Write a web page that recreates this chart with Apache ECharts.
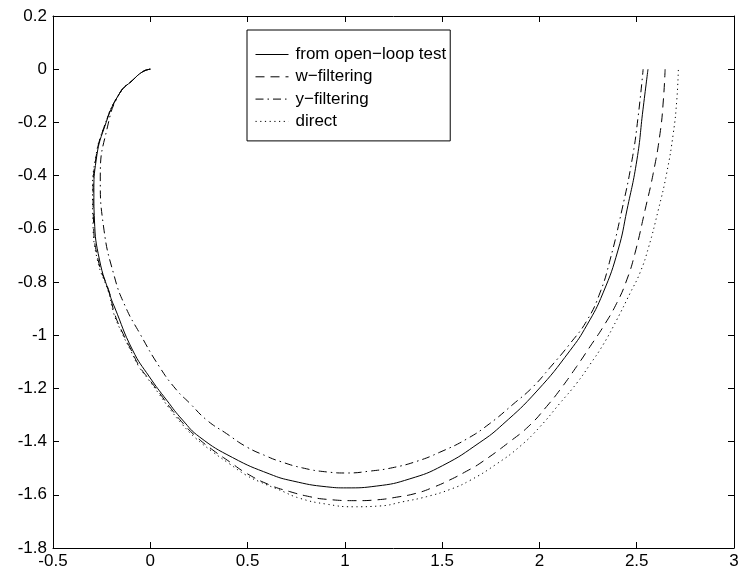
<!DOCTYPE html>
<html>
<head>
<meta charset="utf-8">
<script src="https://cdn.jsdelivr.net/npm/echarts@6/dist/echarts.min.js"></script>
<style>html,body{margin:0;padding:0;background:#fff;}#chart{width:742px;height:573px;}</style>
</head>
<body>
<div id="chart"></div>
<script>
// Series data, [x, y] pairs
var openLoop = [
  [0,0],[-0.038,-0.009],[-0.090,-0.041],[-0.158,-0.091],[-0.235,-0.217],[-0.278,-0.341],
  [-0.290,-0.465],[-0.287,-0.567],[-0.261,-0.717],[-0.207,-0.850],[-0.184,-0.894],
  [-0.091,-1.056],[-0.004,-1.157],[0.084,-1.244],[0.166,-1.319],[0.254,-1.383],
  [0.423,-1.460],[0.614,-1.522],[0.732,-1.548],[0.907,-1.570],[1.010,-1.574],
  [1.164,-1.567],[1.334,-1.540],[1.503,-1.490],[1.694,-1.403],[1.812,-1.335],
  [1.987,-1.210],[2.157,-1.058],[2.244,-0.962],[2.327,-0.841],[2.404,-0.680],
  [2.450,-0.529],[2.501,-0.341],[2.532,-0.153],[2.558,0]
];
var wFiltering = [
  [0,0],[-0.038,-0.009],[-0.090,-0.041],[-0.158,-0.091],[-0.237,-0.217],[-0.281,-0.341],
  [-0.294,-0.465],[-0.292,-0.567],[-0.268,-0.717],[-0.209,-0.842],[-0.184,-0.918],
  [-0.141,-0.993],[-0.098,-1.056],[-0.055,-1.118],[-0.004,-1.168],[0.048,-1.218],
  [0.099,-1.269],[0.168,-1.331],[0.237,-1.382],[0.322,-1.432],[0.408,-1.476],
  [0.494,-1.519],[0.614,-1.563],[0.717,-1.588],[0.819,-1.607],[0.905,-1.617],
  [1.060,-1.622],[1.163,-1.619],[1.265,-1.609],[1.368,-1.594],[1.454,-1.572],
  [1.540,-1.544],[1.626,-1.511],[1.694,-1.482],[1.848,-1.400],[1.951,-1.338],
  [2.037,-1.268],[2.105,-1.206],[2.191,-1.118],[2.260,-1.043],[2.328,-0.968],
  [2.397,-0.880],[2.449,-0.792],[2.491,-0.692],[2.543,-0.529],[2.585,-0.391],
  [2.620,-0.241],[2.637,-0.116],[2.646,0]
];
var yFiltering = [
  [0,0],[-0.038,-0.009],[-0.090,-0.041],[-0.158,-0.091],[-0.220,-0.217],[-0.257,-0.405],
  [-0.240,-0.593],[-0.184,-0.781],[-0.127,-0.894],[-0.055,-0.992],[0.048,-1.120],
  [0.135,-1.206],[0.202,-1.255],[0.290,-1.319],[0.392,-1.370],[0.495,-1.420],
  [0.598,-1.455],[0.665,-1.474],[0.783,-1.499],[0.907,-1.514],[1.010,-1.518],
  [1.128,-1.511],[1.246,-1.498],[1.370,-1.474],[1.488,-1.440],[1.627,-1.390],
  [1.745,-1.332],[1.864,-1.260],[1.967,-1.194],[2.054,-1.122],
  [2.157,-1.032],[2.244,-0.945],[2.311,-0.841],[2.363,-0.717],[2.424,-0.529],
  [2.476,-0.341],[2.507,-0.180],[2.533,0]
];
var direct = [
  [0,0],[-0.038,-0.009],[-0.090,-0.041],[-0.158,-0.091],[-0.238,-0.217],[-0.283,-0.341],
  [-0.297,-0.465],[-0.295,-0.567],[-0.272,-0.717],[-0.213,-0.842],[-0.188,-0.918],
  [-0.145,-0.993],[-0.102,-1.056],[-0.059,-1.118],[-0.008,-1.168],[0.044,-1.220],
  [0.095,-1.272],[0.164,-1.335],[0.233,-1.387],[0.318,-1.437],[0.404,-1.482],
  [0.490,-1.525],[0.562,-1.551],[0.665,-1.582],[0.768,-1.613],[0.905,-1.635],
  [1.042,-1.645],[1.180,-1.642],[1.299,-1.626],[1.420,-1.607],[1.540,-1.580],
  [1.643,-1.546],[1.780,-1.484],[1.900,-1.418],[2.003,-1.344],[2.105,-1.256],
  [2.191,-1.181],[2.260,-1.110],[2.328,-1.035],[2.397,-0.943],[2.466,-0.842],
  [2.517,-0.765],[2.560,-0.672],[2.611,-0.529],[2.654,-0.391],[2.688,-0.241],
  [2.706,-0.116],[2.714,0]
];
var seriesNames = ['from open\u2212loop test', 'w\u2212filtering', 'y\u2212filtering', 'direct'];
var xTicks = {min: -0.5, max: 3, interval: 0.5};
var yTicks = {min: -1.8, max: 0.2, interval: 0.2};

var FONT = '"Liberation Sans", Arial, Helvetica, sans-serif';
var chart = echarts.init(document.getElementById('chart'), null, {renderer: 'canvas'});

function fmt(v) {
  var r = Math.round(v * 10) / 10;
  return String(r);
}
var axisCommon = {
  axisLine: {show: true, onZero: false, lineStyle: {color: '#000', width: 1}},
  axisTick: {show: true, inside: true, length: 6, lineStyle: {color: '#000', width: 1}},
  splitLine: {show: false}
};
function mkLine(name, data, type) {
  return {
    name: name, type: 'line', data: data, smooth: 0.5, symbol: 'none',
    xAxisIndex: 0, yAxisIndex: 0, animation: false,
    itemStyle: {color: '#000'},
    lineStyle: {color: '#000', width: 1, type: type}
  };
}
chart.setOption({
  backgroundColor: '#fff',
  animation: false,
  color: ['#000', '#000', '#000', '#000'],
  grid: {left: 53, right: 8, top: 16, bottom: 25, containLabel: false},
  xAxis: [
    Object.assign({type: 'value', position: 'bottom', min: xTicks.min, max: xTicks.max, interval: xTicks.interval,
      axisLabel: {show: true, color: '#000', fontSize: 17, fontFamily: FONT, margin: 5, formatter: fmt}}, axisCommon),
    Object.assign({type: 'value', position: 'top', min: xTicks.min, max: xTicks.max, interval: xTicks.interval,
      axisLabel: {show: false}}, axisCommon)
  ],
  yAxis: [
    Object.assign({type: 'value', position: 'left', min: yTicks.min, max: yTicks.max, interval: yTicks.interval,
      axisLabel: {show: true, color: '#000', fontSize: 17, fontFamily: FONT, margin: 6, formatter: fmt}}, axisCommon),
    Object.assign({type: 'value', position: 'right', min: yTicks.min, max: yTicks.max, interval: yTicks.interval,
      axisLabel: {show: false}}, axisCommon)
  ],
  legend: {
    orient: 'vertical', left: 247, top: 30,
    data: seriesNames,
    backgroundColor: '#fff', borderColor: '#000', borderWidth: 1, borderRadius: 0,
    padding: [16, 4, 11, 8], itemGap: 5.3, itemWidth: 33, itemHeight: 17,
    selectedMode: false,
    itemStyle: {opacity: 0},
    lineStyle: {width: 1, color: '#000'},
    textStyle: {color: '#000', fontSize: 17, fontFamily: FONT, padding: [0, 0, 0, 2]}
  },
  series: [
    mkLine(seriesNames[0], openLoop, 'solid'),
    mkLine(seriesNames[1], wFiltering, [9, 6]),
    mkLine(seriesNames[2], yFiltering, [8, 4, 1.5, 4]),
    mkLine(seriesNames[3], direct, [1.2, 3.5])
  ]
});
</script>
</body>
</html>
